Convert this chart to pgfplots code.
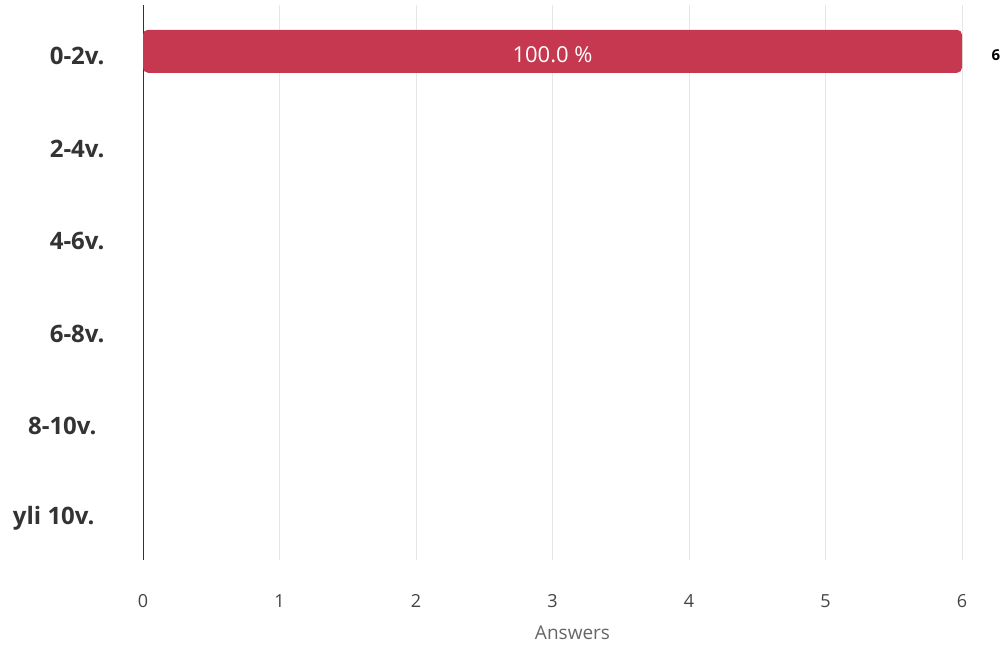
\documentclass[border=0pt]{standalone}
\usepackage{fontspec}
\setmainfont{Open Sans}
\usepackage{pgfplots}
\pgfplotsset{compat=1.18}
\definecolor{barred}{HTML}{C5384F}
\definecolor{gridgray}{HTML}{E6E6E6}
\definecolor{labdark}{HTML}{333333}
\definecolor{tickgray}{HTML}{444444}
\definecolor{titlegray}{HTML}{666666}
\begin{document}
\begin{tikzpicture}
  \useasboundingbox (0,0) rectangle (1006pt,645pt);
  \begin{axis}[
      at={(143pt,85pt)}, anchor=south west,
      scale only axis,
      width=819pt, height=555pt,
      xmin=0, xmax=6,
      ymin=-0.5, ymax=5.5,
      y dir=reverse,
      xbar, bar width=43pt, bar shift=0pt,
      xtick={0,1,2,3,4,5,6},
      ytick={0,1,2,3,4,5},
      yticklabels={0-2v., 2-4v., 4-6v., 6-8v., 8-10v.\rule{8pt}{0pt}, yli 10v.\rule{10pt}{0pt}},
      major tick length=0pt,
      xmajorgrids,
      grid style={gridgray, line width=1pt},
      axis x line*=bottom, axis y line*=left,
      x axis line style={draw=none},
      y axis line style={labdark, line width=1pt, -},
      /pgf/number format/assume math mode=true,
      xticklabel style={font=\fontsize{18}{20}\selectfont, text=tickgray, anchor=base, yshift=-47pt},
      yticklabel style={font=\fontsize{24}{27}\selectfont\bfseries, text=labdark, xshift=-35pt, yshift=-5pt},
      xlabel={Answers},
      xlabel style={font=\fontsize{19}{22}\selectfont, text=titlegray, at={(axis description cs:0.5,0)}, anchor=base, xshift=20pt, yshift=-79pt},
      clip=false,
    ]
    \addplot[fill=barred, draw=none, rounded corners=5pt] coordinates {(6,0)};
    \node[text=white, font=\fontsize{22}{24}\selectfont, yshift=-3pt] at (axis cs:3,0) {100.0 \%};
    \node[text=black, font=\fontsize{15}{17}\selectfont\bfseries, xshift=34pt, yshift=-4pt] at (axis cs:6,0) {6};
  \end{axis}
\end{tikzpicture}
\end{document}
